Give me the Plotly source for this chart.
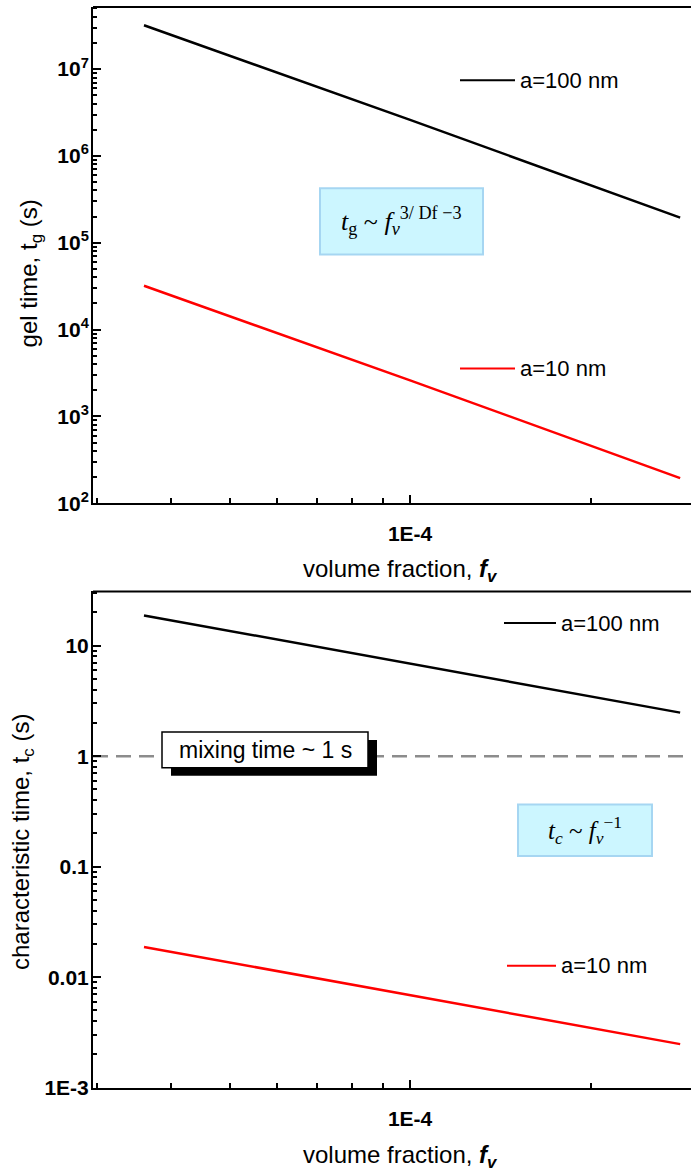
import numpy as np
import plotly.graph_objects as go

# ---- data -------------------------------------------------------------
fv = [3.6e-5, 1.0e-4, 2.82e-4]                 # volume fraction
tg_100nm = [3.2e7, 2.6e6, 1.95e5]              # gel time, a = 100 nm
tg_10nm = [3.2e4, 2.6e3, 1.95e2]               # gel time, a = 10 nm
tc_100nm = [18.8, 6.9, 2.48]                   # characteristic time, a = 100 nm
tc_10nm = [0.0188, 0.0069, 0.00248]            # characteristic time, a = 10 nm
mixing_time = 1.0                              # s

x_range = [2.96e-5, 2.94e-4]
tg_range = [1e2, 5.2e7]
tc_range = [1e-3, 31.0]

tg_ticks = [1e2, 1e3, 1e4, 1e5, 1e6, 1e7]
tg_ticktext = ["10<sup>2</sup>", "10<sup>3</sup>", "10<sup>4</sup>",
               "10<sup>5</sup>", "10<sup>6</sup>", "10<sup>7</sup>"]
tc_ticks = [1e-3, 1e-2, 1e-1, 1, 10]
tc_ticktext = ["1E-3", "0.01", "0.1", "1", "10"]
x_ticks = [1e-4]
x_ticktext = ["1E-4"]

# ---- page geometry (pixels) -------------------------------------------
W, H = 691, 1174
ML, MR, MT, MB = 93, 0, 0, 0
PW, PH = W - ML - MR, H - MT - MB


def px(x):
    return (x - ML) / PW


def py(y):
    return 1 - (y - MT) / PH


SANS = "Liberation Sans, Arial, sans-serif"
SERIF = "Liberation Serif, Times New Roman, serif"


def minor_vals(lo, hi):
    vals = []
    for n in range(int(np.floor(np.log10(lo))) - 1, int(np.ceil(np.log10(hi))) + 1):
        for k in range(2, 10):
            v = k * 10.0 ** n
            if lo < v < hi:
                vals.append(v)
    return vals


fig = go.Figure()

# ---- curves -------------------------------------------------------------
fig.add_trace(go.Scatter(x=fv, y=tg_100nm, mode="lines", xaxis="x", yaxis="y",
                         line=dict(color="black", width=2.5), showlegend=False))
fig.add_trace(go.Scatter(x=fv, y=tg_10nm, mode="lines", xaxis="x", yaxis="y",
                         line=dict(color="#ff0000", width=2.5), showlegend=False))
fig.add_trace(go.Scatter(x=x_range, y=[mixing_time, mixing_time], mode="lines",
                         xaxis="x2", yaxis="y2",
                         line=dict(color="#8c8c8c", width=2.5, dash="15px,8px"),
                         showlegend=False))
fig.add_trace(go.Scatter(x=fv, y=tc_100nm, mode="lines", xaxis="x2", yaxis="y2",
                         line=dict(color="black", width=2.5), showlegend=False))
fig.add_trace(go.Scatter(x=fv, y=tc_10nm, mode="lines", xaxis="x2", yaxis="y2",
                         line=dict(color="#ff0000", width=2.5), showlegend=False))

tickfont = dict(family=SANS, size=21, color="black", weight="bold")

common_x = dict(
    type="log", range=[np.log10(x_range[0]), np.log10(x_range[1])], domain=[0, 1],
    showline=True, linecolor="black", linewidth=2, mirror=False,
    ticks="inside", ticklen=8, tickwidth=2, tickcolor="black",
    tickmode="array", tickvals=x_ticks, ticktext=x_ticktext,
    tickfont=tickfont, ticklabelstandoff=11,
    minor=dict(ticks="inside", ticklen=5, tickwidth=2, tickcolor="black",
               tickmode="array", tickvals=minor_vals(*x_range), showgrid=False),
    showgrid=False, zeroline=False,
)
common_y = dict(
    type="log", showline=True, linecolor="black", linewidth=2, mirror=False,
    ticks="inside", ticklen=8, tickwidth=2, tickcolor="black",
    tickmode="array", tickfont=tickfont, ticklabelstandoff=-2,
    showgrid=False, zeroline=False,
)

fig.update_layout(
    width=W, height=H,
    margin=dict(l=ML, r=MR, t=MT, b=MB, pad=0),
    paper_bgcolor="white", plot_bgcolor="white",
    showlegend=False,
    xaxis=dict(common_x, anchor="y"),
    yaxis=dict(common_y, anchor="x",
               range=[np.log10(tg_range[0]), np.log10(tg_range[1])],
               domain=[py(508), py(7)],
               tickvals=tg_ticks, ticktext=tg_ticktext,
               minor=dict(ticks="inside", ticklen=4, tickwidth=1.5, tickcolor="black",
                          tickmode="array", tickvals=minor_vals(*tg_range),
                          showgrid=False)),
    xaxis2=dict(common_x, anchor="y2"),
    yaxis2=dict(common_y, anchor="x2",
                range=[np.log10(tc_range[0]), np.log10(tc_range[1])],
                domain=[py(1098), py(597)],
                tickvals=tc_ticks, ticktext=tc_ticktext,
                minor=dict(ticks="inside", ticklen=4, tickwidth=1.5, tickcolor="black",
                           tickmode="array", tickvals=minor_vals(*tc_range),
                           showgrid=False)),
)

shapes = []
annotations = []

# top frame lines
for xr, yr in (("x domain", "y domain"), ("x2 domain", "y2 domain")):
    shapes.append(dict(type="line", xref=xr, yref=yr, x0=0, x1=1, y0=1, y1=1,
                       line=dict(color="black", width=2)))


def legend_item(x0, x1, y, color, text):
    shapes.append(dict(type="line", xref="paper", yref="paper",
                       x0=px(x0), x1=px(x1), y0=py(y), y1=py(y),
                       line=dict(color=color, width=2)))
    annotations.append(dict(xref="paper", yref="paper", x=px(x1 + 3), y=py(y),
                            xanchor="left", yanchor="middle", showarrow=False,
                            text=text, font=dict(family=SANS, size=22, color="black")))


legend_item(460, 515, 81, "black", "a=100 nm")
legend_item(460, 515, 372, "#ff0000", "a=10 nm")
legend_item(504, 556, 629, "black", "a=100 nm")
legend_item(507, 556, 975, "#ff0000", "a=10 nm")


def formula_box(x0, x1, y0, y1, text, size):
    shapes.append(dict(type="rect", xref="paper", yref="paper",
                       x0=px(x0), x1=px(x1), y0=py(y1), y1=py(y0),
                       fillcolor="#ccf6ff", line=dict(color="#a6d6f2", width=2)))
    annotations.append(dict(xref="paper", yref="paper",
                            x=px((x0 + x1) / 2), y=py((y0 + y1) / 2),
                            xanchor="center", yanchor="middle", showarrow=False,
                            text=text, font=dict(family=SERIF, size=size, color="black")))


formula_box(320, 483, 190, 257,
            "<i>t</i><sub>g</sub> ~ <i>f</i><sub><i>v</i></sub>"
            "<sup>3/ Df −3</sup>", 26)
formula_box(518, 652, 812, 864,
            "<i>t</i><sub><i>c</i></sub> ~ <i>f</i><sub><i>v</i></sub><sup>−1</sup>", 25)

# mixing-time label with drop shadow
shapes.append(dict(type="rect", xref="paper", yref="paper",
                   x0=px(171), x1=px(377), y0=py(783), y1=py(747),
                   fillcolor="black", line=dict(width=0)))
shapes.append(dict(type="rect", xref="paper", yref="paper",
                   x0=px(162), x1=px(368), y0=py(775), y1=py(739),
                   fillcolor="white", line=dict(color="black", width=1.5)))
annotations.append(dict(xref="paper", yref="paper", x=px(265), y=py(757),
                        xanchor="center", yanchor="middle", showarrow=False,
                        text="mixing time ~ 1 s",
                        font=dict(family=SANS, size=23, color="black")))

# axis titles
xtitle = "volume fraction, <b><i>f</i></b><sub><b><i>v</i></b></sub>"
for ypx in (576, 1167):
    annotations.append(dict(xref="paper", yref="paper", x=px(400), y=py(ypx),
                            xanchor="center", yanchor="middle", showarrow=False,
                            text=xtitle, font=dict(family=SANS, size=24, color="black")))

annotations.append(dict(xref="paper", yref="paper", x=px(30), y=py(276),
                        xanchor="center", yanchor="middle", showarrow=False,
                        textangle=-90, text="gel time, t<sub>g</sub> (s)",
                        font=dict(family=SANS, size=24, color="black")))
annotations.append(dict(xref="paper", yref="paper", x=px(22), y=py(850),
                        xanchor="center", yanchor="middle", showarrow=False,
                        textangle=-90, text="characteristic time, t<sub>c</sub> (s)",
                        font=dict(family=SANS, size=24, color="black")))

fig.update_layout(shapes=shapes, annotations=annotations)
fig.write_html("out.html")
